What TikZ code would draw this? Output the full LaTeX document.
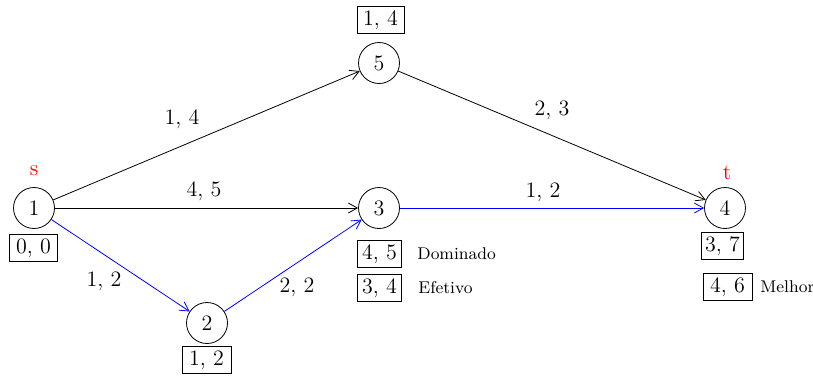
\documentclass[tikz,border=0pt]{standalone}
\usetikzlibrary{arrows.meta}
\begin{document}
\begin{tikzpicture}[x=0.5pt,y=-0.5pt,
  every node/.style={font=\fontsize{11}{13}\selectfont},
  vtx/.style={circle,draw,line width=0.4pt,minimum size=20.5pt,inner sep=0pt},
  lab/.style={draw,line width=0.4pt,inner sep=2pt,minimum height=12.5pt,minimum width=22pt},
  note/.style={font=\fontsize{8.5}{10}\selectfont,anchor=west,inner sep=0pt},
  arc/.style={line width=0.4pt,-{Straight Barb[length=4.5pt,width=5pt]}},
  bl/.style={blue},
  el/.style={inner sep=0pt}]
\useasboundingbox (0,0) rectangle (813,376);
\node[vtx] (n1) at (34,208) {1};
\node[vtx] (n2) at (207,323) {2};
\node[vtx] (n3) at (379,208) {3};
\node[vtx] (n4) at (725,208) {4};
\node[vtx] (n5) at (379,63) {5};
\node[text=red,inner sep=0pt] (s) at (34,171) {s};
\node[text=red,inner sep=0pt] (t) at (727,173) {t};
\node[lab,minimum width=24pt] (b1) at (33.5,248) {0, 0};
\node[lab,minimum width=24.5pt] (b2) at (206.5,360) {1, 2};
\node[lab,minimum width=23.5pt] (b5) at (380.5,20) {1, 4};
\node[lab] (b3a) at (379.5,254) {4, 5};
\node[lab] (b3b) at (379.5,288) {3, 4};
\node[note] (d1) at (417,254) {Dominado};
\node[note] (d2) at (418,288) {Efetivo};
\node[lab,minimum width=21pt] (b4a) at (722.5,246) {3, 7};
\node[lab,minimum width=24.5pt] (b4b) at (727.5,287) {4, 6};
\node[note] (d3) at (760,287) {Melhor};
\draw[arc] (n1) -- (n5);
\draw[arc] (n1) -- (n3);
\draw[arc,bl] (n1) -- (n2);
\draw[arc,bl] (n2) -- (n3);
\draw[arc,bl] (n3) -- (n4);
\draw[arc] (n5) -- (n4);
\node[el] (e15) at (182,119) {1, 4};
\node[el] (e13) at (204,191) {4, 5};
\node[el] (e12) at (104,281) {1, 2};
\node[el] (e23) at (297,287) {2, 2};
\node[el] (e54) at (552,110) {2, 3};
\node[el] (e34) at (543,192) {1, 2};
\end{tikzpicture}
\end{document}
